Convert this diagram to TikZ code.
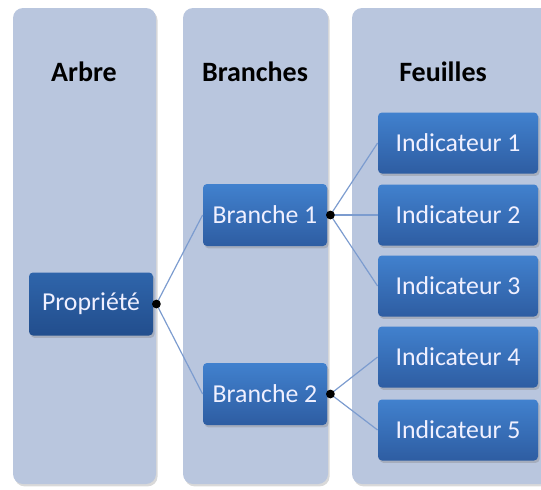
\documentclass[tikz,border=0pt]{standalone}
\usepackage{fontspec}
\setmainfont{Carlito}
\usetikzlibrary{shadows,positioning}
\definecolor{colbg}{HTML}{B9C6DE}
\definecolor{boxtop}{HTML}{4181CE}
\definecolor{boxbot}{HTML}{2E5DA2}
\definecolor{roottop}{HTML}{2F65AB}
\definecolor{rootbot}{HTML}{224E8D}
\definecolor{linkcol}{HTML}{7C9CCF}
\tikzset{column/.style={
            fill=colbg,
            rounded corners=5pt,
            drop shadow={opacity=0.3,shadow xshift=0.8pt,shadow yshift=-1.2pt}
        },
        header/.style={
            font=\fontsize{14}{17}\selectfont\bfseries,
            text=black
        },
        box/.style={
            rectangle,
            rounded corners=2pt,
            top color=boxtop,
            bottom color=boxbot,
            text=white!94!blue,
            font=\fontsize{12.9}{15}\selectfont,
            inner sep=0pt,
            minimum width=80pt,
            minimum height=30.5pt,
            drop shadow={opacity=0.35,shadow xshift=0.8pt,shadow yshift=-1.2pt}
        },
        rootbox/.style={
            box,
            top color=roottop,
            bottom color=rootbot,
            minimum width=62pt,
            minimum height=31.5pt
        },
        branchbox/.style={
            box,
            minimum width=62pt,
            minimum height=31pt
        },
        link/.style={
            linkcol,
            line width=0.6pt
        },
        dot/.style={
            fill=black
        }
    }
\begin{document}
\begin{tikzpicture}[x=0.5pt,y=-0.5pt]
        \useasboundingbox (0,0) rectangle (541,489);
        \clip (0,0) rectangle (541,489);

        % columns
        \path[column] (13,8) rectangle (156,484);
        \path[column] (183,8) rectangle (328,484);
        \path[column] (352,8) rectangle (580,484);

        \node[header] (harbre) at (84,72) {Arbre};
        \node[header] (hbranches) at (255,72) {Branches};
        \node[header] (hfeuilles) at (443,72) {Feuilles};

        % boxes
        \node[rootbox] (prop) at (91,304) {Propriété};
        \node[branchbox] (b1) at (265,215) {Branche 1};
        \node[branchbox] (b2) at (265,394) {Branche 2};
        \node[box] (i1) at (458,143) {Indicateur 1};
        \node[box] (i2) at (458,215) {Indicateur 2};
        \node[box] (i3) at (458,286) {Indicateur 3};
        \node[box] (i4) at (458,357) {Indicateur 4};
        \node[box] (i5) at (458,430) {Indicateur 5};

        \coordinate (d0) at ([xshift=1.5pt]prop.east);
        \coordinate (d1) at ([xshift=1.5pt]b1.east);
        \coordinate (d2) at ([xshift=1.5pt]b2.east);

        \draw[link] (d0) -- (b1.west);
        \draw[link] (d0) -- (b2.west);
        \foreach \n in {i1,i2,i3} \draw[link] (d1) -- (\n.west);
        \foreach \n in {i4,i5} \draw[link] (d2) -- (\n.west);

        \fill[dot] (d0) circle (2.2pt);
        \fill[dot] (d1) circle (2.2pt);
        \fill[dot] (d2) circle (2.2pt);

    \end{tikzpicture}
\end{document}
